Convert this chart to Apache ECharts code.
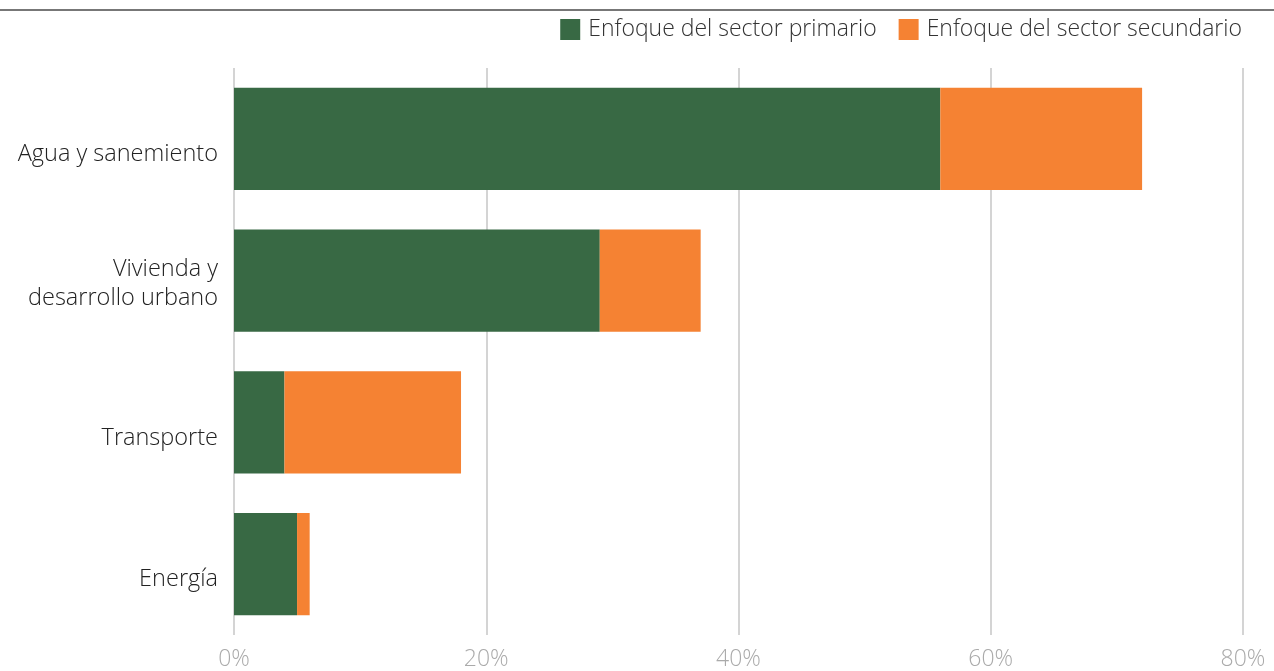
<!DOCTYPE html>
<html><head><meta charset="utf-8">
<script src="https://cdn.jsdelivr.net/npm/echarts@6/dist/echarts.min.js"></script>
<style>html,body{margin:0;padding:0;background:#fff}#c{width:1274px;height:671px}</style>
</head><body><div id="c"></div>
<script>
const categories = ['Agua y sanemiento', 'Vivienda y\ndesarrollo urbano', 'Transporte', 'Energía'];
const primario = [56, 29, 4, 5];
const secundario = [16, 8, 14, 1];
const seriesNames = ['Enfoque del sector primario', 'Enfoque del sector secundario'];
const xTicks = [0, 20, 40, 60, 80];

const font = '"Open Sans", Lato, sans-serif';
const chart = echarts.init(document.getElementById('c'));
chart.setOption({
  animation: false,
  textStyle: { fontFamily: font },
  graphic: [{
    type: 'line', shape: { x1: 0, y1: 10, x2: 1274, y2: 10 },
    style: { stroke: '#777', lineWidth: 2 }
  }],
  legend: {
    right: 32, top: 18, padding: 0, itemWidth: 20, itemHeight: 21, itemGap: 22,
    icon: 'rect',
    textStyle: { fontSize: 23, fontWeight: 300, color: '#333', fontFamily: font, padding: [0, 0, 0, 3] },
    data: seriesNames
  },
  grid: { left: 234, right: 31, top: 68, bottom: 35 },
  xAxis: {
    type: 'value', min: xTicks[0], max: xTicks[xTicks.length - 1], interval: 20,
    axisLine: { show: false }, axisTick: { show: false },
    splitLine: { lineStyle: { color: '#d4d4d4', width: 2 } },
    axisLabel: { formatter: v => v + '%', fontSize: 23, fontWeight: 300, color: '#aaa', margin: 13, fontFamily: font }
  },
  yAxis: {
    type: 'category', inverse: true, data: categories,
    axisLine: { show: false }, axisTick: { show: false },
    axisLabel: {
      fontSize: 23.5, color: '#222', margin: 16, lineHeight: 29, align: 'right', fontFamily: font,
      formatter: v => v.indexOf('\n') >= 0 ? '{m|' + v.replace('\n', '}\n{m|') + '}' : '{s|' + v + '}',
      rich: {
        s: { fontSize: 23.5, fontWeight: 300, color: '#222', padding: [31, 0, 0, 0], fontFamily: font },
        m: { fontSize: 23.5, fontWeight: 300, color: '#222', lineHeight: 29, padding: [7, 0, 0, 0], fontFamily: font }
      }
    }
  },
  series: [
    { name: seriesNames[0], type: 'bar', stack: 's', data: primario, barWidth: '72%', itemStyle: { color: '#386944' } },
    { name: seriesNames[1], type: 'bar', stack: 's', data: secundario, barWidth: '72%', itemStyle: { color: '#F58233' } }
  ]
});
</script></body></html>
